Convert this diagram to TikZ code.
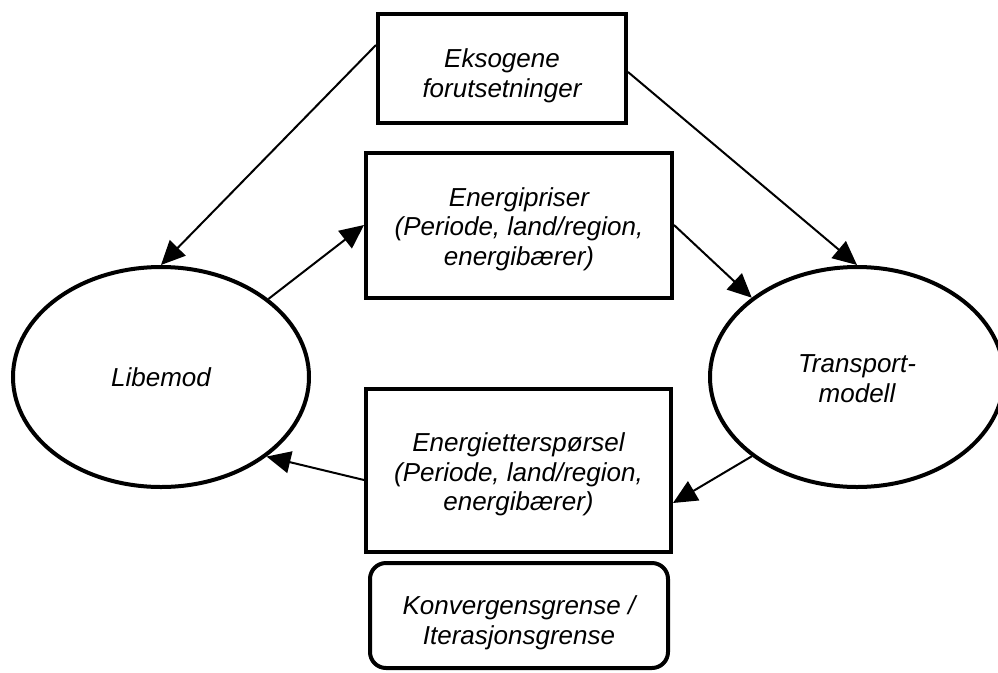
\documentclass[tikz,border=0pt]{standalone}
\usepackage{fontspec}
\setmainfont{Liberation Sans}
\usetikzlibrary{arrows.meta, shapes.geometric}

% a taller first line pushes a text block slightly downwards
\newcommand{\tallfirst}[1]{\rule{0pt}{#1}}

\begin{document}
\begin{tikzpicture}[x=1pt, y=-1pt,
  every node/.style={font=\fontsize{26}{29.5}\selectfont\itshape, align=center, inner sep=0pt},
  box/.style={draw, line width=4pt, rectangle},
  model/.style={draw, line width=4pt, ellipse},
  link/.style={line width=2pt, -{Triangle[length=24pt, width=22pt]}}
]
\useasboundingbox (0,0) rectangle (998,672);

% boxes
\node[box, minimum width=248pt, minimum height=109pt] (exo) at (502,68.5)
  {\tallfirst{33pt}Eksogene\\forutsetninger};
\node[box, minimum width=306pt, minimum height=145pt] (prices) at (519,225)
  {\tallfirst{27pt}Energipriser\\(Periode, land/region,\\energibærer)};
\node[box, minimum width=305pt, minimum height=163pt] (demand) at (518.5,470.5)
  {\tallfirst{27pt}Energietterspørsel\\(Periode, land/region,\\energibærer)};
\node[box, rounded corners=16pt, minimum width=298pt, minimum height=105pt] (conv) at (519,615.5)
  {\tallfirst{33pt}Konvergensgrense /\\Iterasjonsgrense};

% models
\node[model, minimum width=296pt, minimum height=220pt] (lib) at (161,377) {Libemod};
\node[model, minimum width=294pt, minimum height=220pt] (trans) at (857,377) {\tallfirst{21pt}Transport-\\modell};

% connectors
\draw[link] ([yshift=23.5pt]exo.west) -- (lib.north);
\draw[link] ([yshift=-3.5pt]exo.east) -- (trans.north);
\draw[link] (lib.36) -- (prices.west);
\draw[link] (prices.east) -- (trans.143);
\draw[link] (trans.217) -- ([yshift=-32.5pt]demand.east);
\draw[link] ([yshift=-9.5pt]demand.west) -- (lib.-37);
\end{tikzpicture}
\end{document}
